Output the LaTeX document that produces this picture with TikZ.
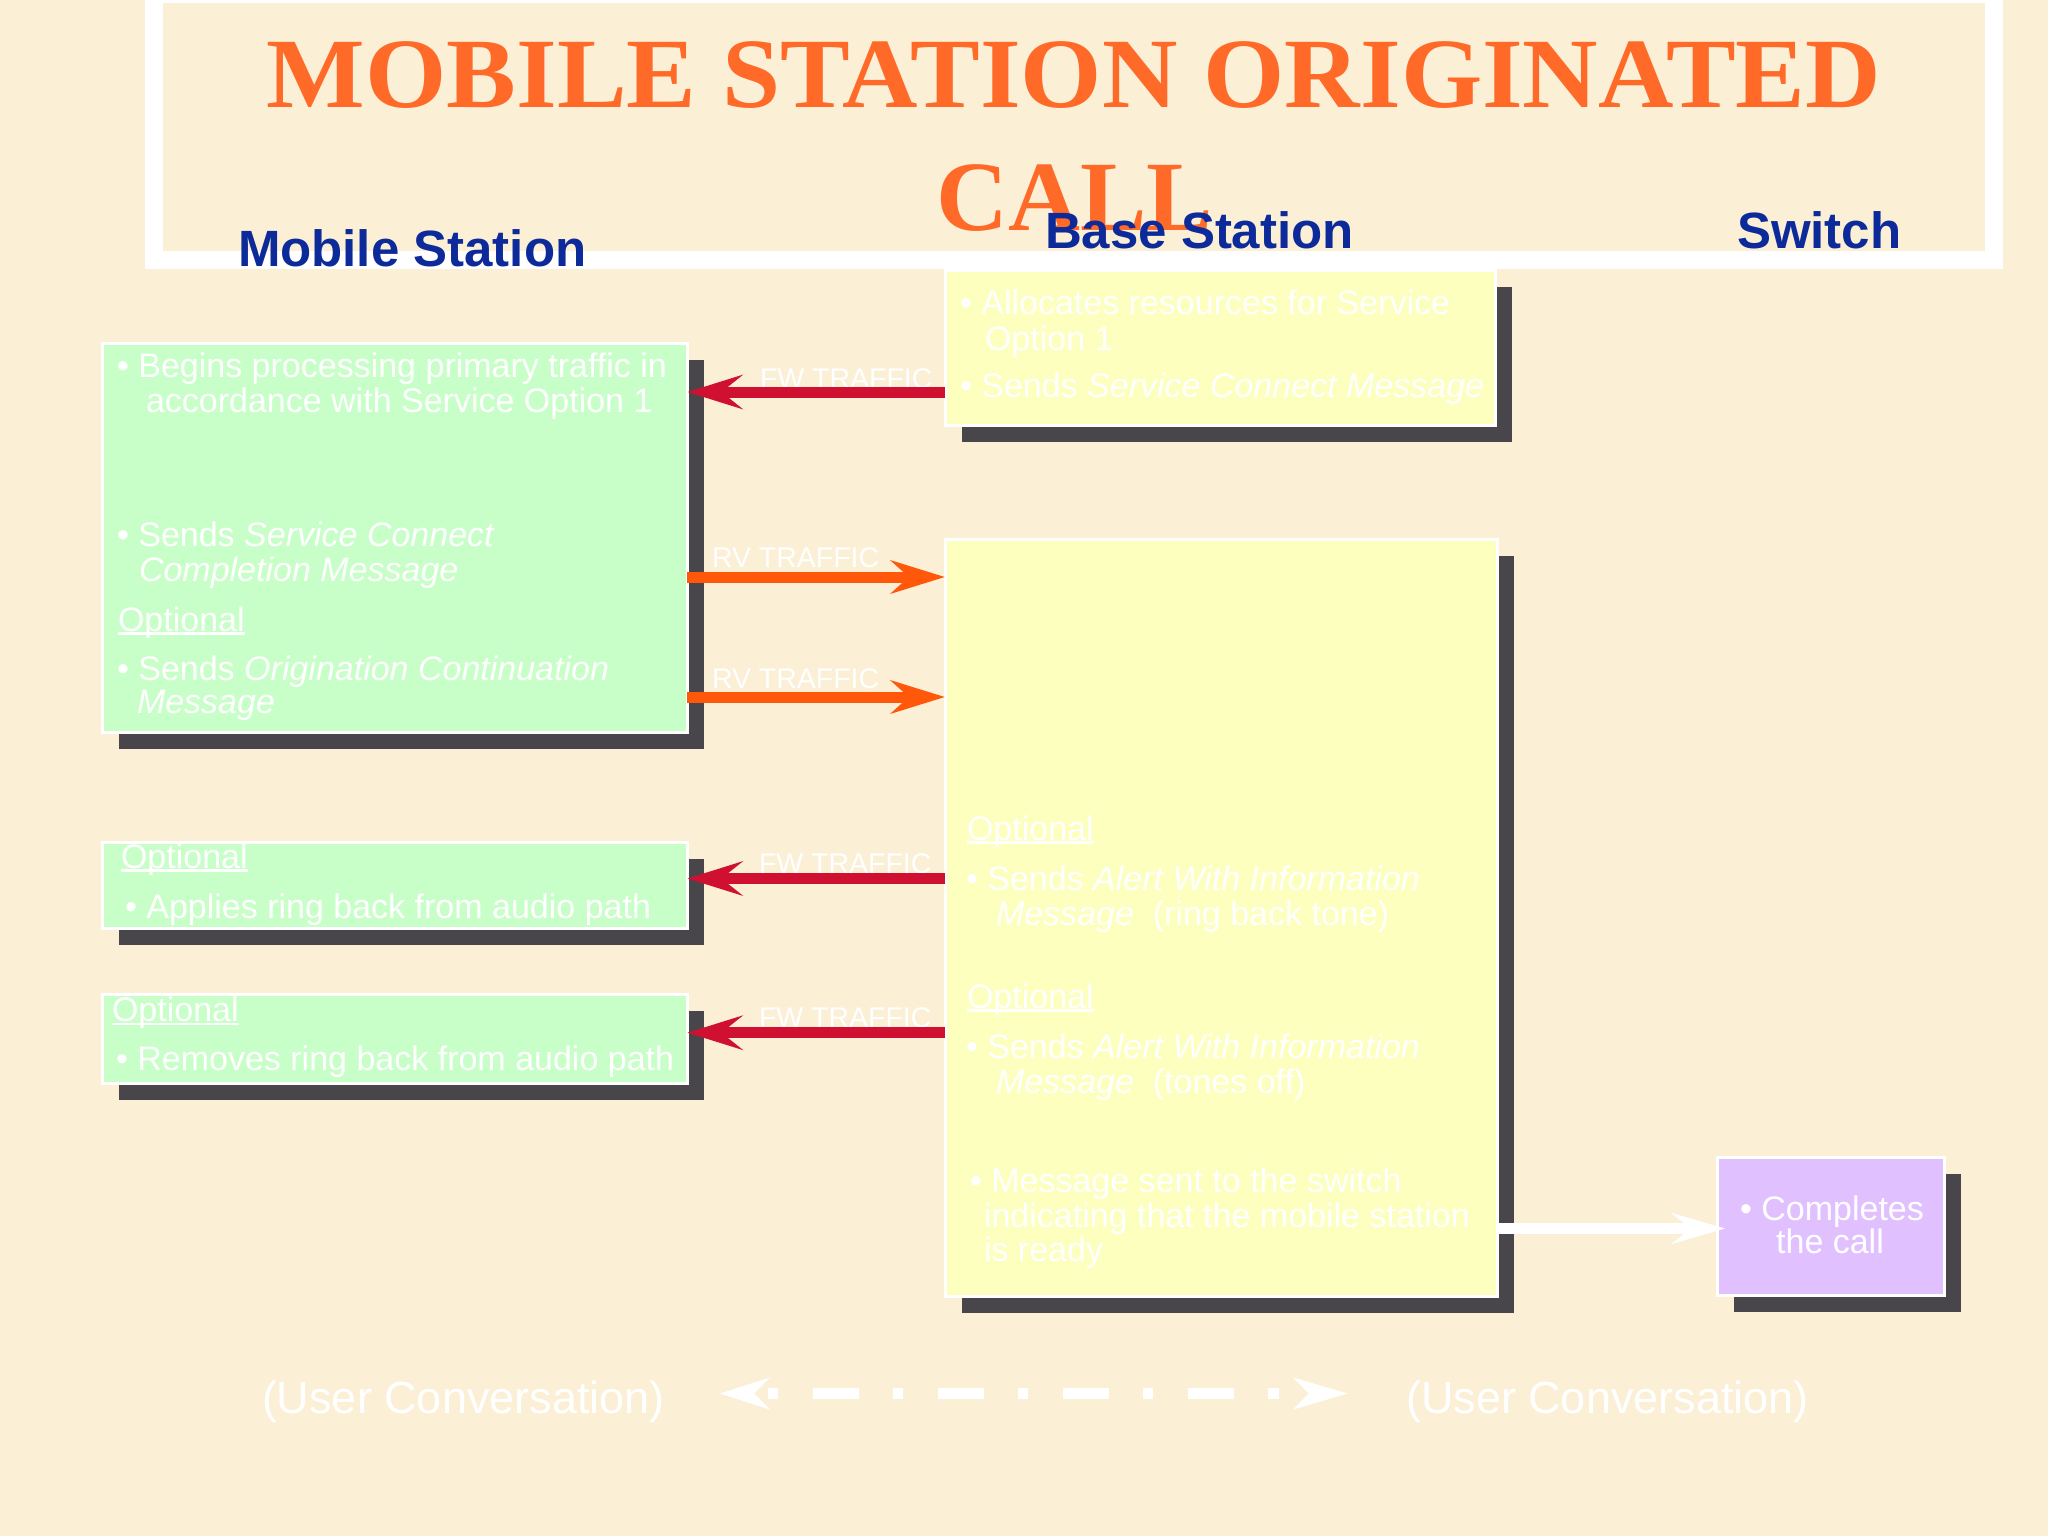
\documentclass[tikz,border=0pt]{standalone}
\usepackage{fontspec}
\setmainfont{Liberation Sans}
\newfontfamily\serifb{Liberation Serif}
\usetikzlibrary{arrows.meta,shadows}
\definecolor{bg}{RGB}{251,239,214}
\definecolor{gfill}{RGB}{200,255,200}
\definecolor{yfill}{RGB}{252,255,190}
\definecolor{pfill}{RGB}{224,192,255}
\definecolor{shgray}{RGB}{72,70,74}
\definecolor{titleor}{RGB}{255,106,40}
\definecolor{hdblue}{RGB}{12,42,153}
\definecolor{arred}{RGB}{207,16,48}
\definecolor{aror}{RGB}{255,88,10}
\newcommand\optu[1]{\setbox0\hbox{#1}\rlap{\rule[-0.035cm]{\wd0}{0.022cm}}\box0}
\begin{document}
\begin{tikzpicture}[x=0.01cm,y=-0.01cm,
  box/.style={draw=white, line width=0.03cm, inner sep=0, outer sep=0, anchor=north west,
    drop shadow={shadow xshift=0.17cm, shadow yshift=-0.17cm, opacity=1, fill=shgray}},
  gbox/.style={box, fill=gfill},
  ybox/.style={box, fill=yfill},
  pbox/.style={box, fill=pfill},
  tx/.style={anchor=base west, inner sep=0, outer sep=0, text=white, font=\fontsize{9.67pt}{10pt}\selectfont},
  txc/.style={tx, anchor=base},
  lbl/.style={anchor=base west, inner sep=0, outer sep=0, text=white, font=\fontsize{8.1pt}{9pt}\selectfont},
  hdr/.style={anchor=base west, inner sep=0, outer sep=0, text=hdblue, font=\fontsize{14.5pt}{16pt}\selectfont\bfseries},
  ttl/.style={anchor=base, inner sep=0, outer sep=0, text=titleor, font=\fontsize{28.3pt}{30pt}\selectfont\serifb\bfseries},
  ucv/.style={anchor=base west, inner sep=0, outer sep=0, text=white, font=\fontsize{12.8pt}{14pt}\selectfont},
  fwarrow/.style={draw=arred, line width=0.11cm, -{Stealth[length=0.55cm, width=0.34cm, inset=0.21cm]}},
  rvarrow/.style={draw=aror, line width=0.11cm, -{Stealth[length=0.54cm, width=0.33cm, inset=0.18cm]}},
  wharrow/.style={draw=white, line width=0.11cm, -{Stealth[length=0.536cm, width=0.31cm, inset=0.2cm]}},
  convarrow/.style={draw=white, line width=0.11cm, dash pattern=on 0.10cm off 0.35cm on 0.46cm off 0.34cm, dash phase=1.07cm,
    {Stealth[length=0.495cm, width=0.31cm, inset=0.15cm]}-{Stealth[length=0.54cm, width=0.31cm, inset=0.15cm]}}
]
\useasboundingbox (0,0) rectangle (2048,1536);
\fill[bg] (0,0) rectangle (2048,1536);

% title frame
\draw[white, line width=0.18cm] (154,-6) rectangle (1994,260);
\node[ttl] (title1) at (1074,107) {\scalebox{1.05}[1]{MOBILE STATION ORIGINATED}};
\node[ttl] (title2) at (1075,230) {CALL};

% column headers
\node[hdr] (hms) at (238,266) {Mobile Station};
\node[hdr] (hbs) at (1045,248) {Base Station};
\node[hdr] (hsw) at (1737,248) {Switch};

% boxes
\node[gbox, minimum width=5.85cm, minimum height=3.89cm] (ms1) at (102,343) {};
\node[ybox, minimum width=5.50cm, minimum height=1.55cm] (bs1) at (945,270) {};
\node[ybox, minimum width=5.52cm, minimum height=7.57cm] (bs2) at (945,539) {};
\node[gbox, minimum width=5.85cm, minimum height=0.86cm] (ms2) at (102,842) {};
\node[gbox, minimum width=5.85cm, minimum height=0.89cm] (ms3) at (102,994) {};
\node[pbox, minimum width=2.27cm, minimum height=1.38cm] (sw1) at (1717,1157) {};

% mobile station box 1 texts
\node[tx] (m1a) at (117,377) {• Begins processing primary traffic in};
\node[tx] (m1b) at (146,412.5) {accordance with Service Option 1};
\node[tx] (m1c) at (117,546) {• Sends \textit{Service Connect}};
\node[tx] (m1d) at (139,581.5) {\textit{Completion Message}};
\node[tx] (m1e) at (118,631) {\optu{Optional}};
\node[tx] (m1f) at (117,680.5) {• Sends \textit{Origination Continuation}};
\node[tx] (m1g) at (137,713) {\textit{Message}};

% base station box 1 texts
\node[tx] (b1a) at (960,314) {• Allocates resources for Service};
\node[tx] (b1b) at (985,350) {Option 1};
\node[tx] (b1c) at (960,397) {• Sends \textit{Service Connect Message}};

% base station box 2 texts
\node[tx] (b2a) at (967,840) {\optu{Optional}};
\node[tx] (b2b) at (966,890) {• Sends \textit{Alert With Information}};
\node[tx] (b2c) at (996,925) {\textit{Message}\ \ (ring back tone)};
\node[tx] (b2d) at (967,1008) {\optu{Optional}};
\node[tx] (b2e) at (966,1058) {• Sends \textit{Alert With Information}};
\node[tx] (b2f) at (996,1093) {\textit{Message}\ \ (tones off)};
\node[tx] (b2g) at (970,1192) {• Message sent to the switch};
\node[tx] (b2h) at (984,1227) {indicating that the mobile station};
\node[tx] (b2i) at (984,1261) {is ready};

% switch box text
\node[txc] (s1a) at (1832,1220) {• Completes};
\node[txc] (s1b) at (1830,1253) {the call};

% mobile station boxes 2 and 3
\node[tx] (m2a) at (121,868) {\optu{Optional}};
\node[tx] (m2b) at (125,918) {• Applies ring back from audio path};
\node[tx] (m3a) at (112,1021.5) {\optu{Optional}};
\node[tx] (m3b) at (116,1070) {• Removes ring back from audio path};

% arrow labels
\node[lbl] (l1) at (760,388) {FW TRAFFIC};
\node[lbl] (l2) at (712,567) {RV TRAFFIC};
\node[lbl] (l3) at (712,688) {RV TRAFFIC};
\node[lbl] (l4) at (759,873) {FW TRAFFIC};
\node[lbl] (l5) at (759,1027) {FW TRAFFIC};

% arrows
\draw[fwarrow] (bs1.west |- 0,392) -- (ms1.east |- 0,392);
\draw[rvarrow] (ms1.east |- 0,577) -- (bs2.west |- 0,577);
\draw[rvarrow] (ms1.east |- 0,697) -- (bs2.west |- 0,697);
\draw[fwarrow] (bs2.west |- 0,878.5) -- (ms2.east |- 0,878.5);
\draw[fwarrow] (bs2.west |- 0,1032.7) -- (ms3.east |- 0,1032.7);
\draw[wharrow, shorten >=-0.08cm] (bs2.east |- 0,1228.5) -- (sw1.west |- 0,1228.5);

% user conversation
\node[ucv] (uc1) at (262,1413) {(User Conversation)};
\node[ucv] (uc2) at (1406,1413) {(User Conversation)};
\coordinate (cl) at (719.5,1393.5);
\coordinate (cr) at (1348,1393.5);
\draw[convarrow] (cl) -- (cr);
\end{tikzpicture}
\end{document}
